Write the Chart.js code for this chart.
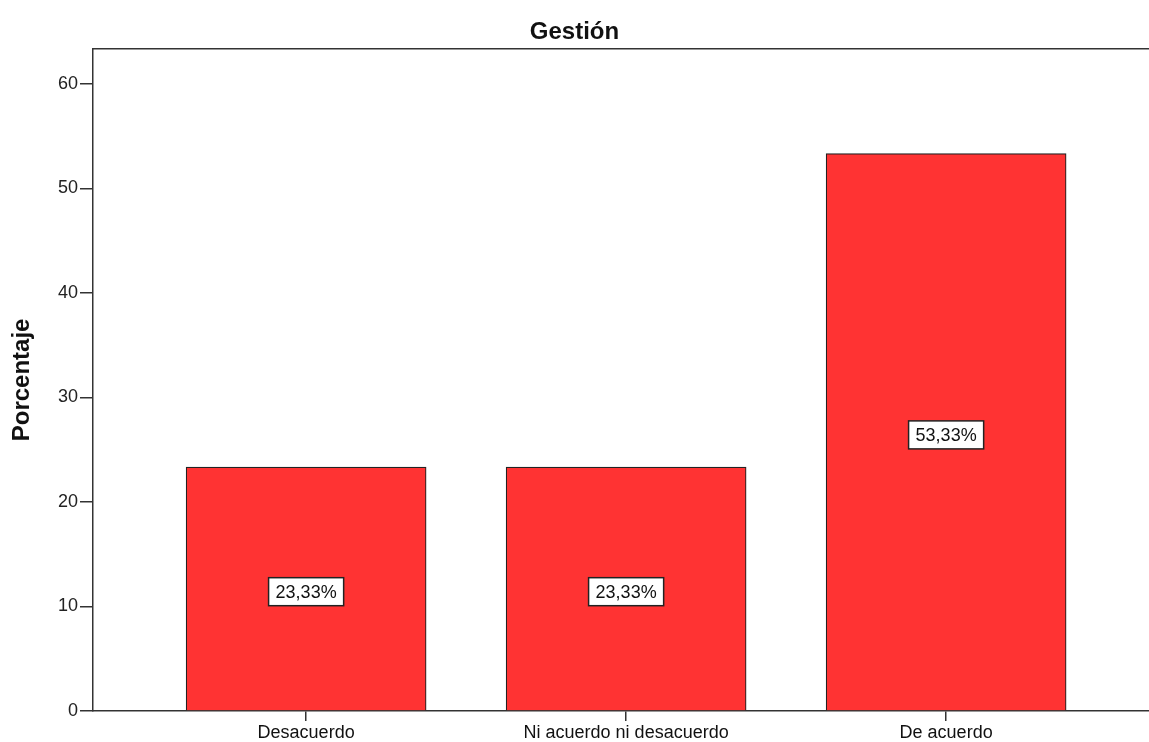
<!DOCTYPE html>
<html>
<head>
<meta charset="utf-8">
<script src="https://cdn.jsdelivr.net/npm/chart.js@4/dist/chart.umd.min.js"></script>
<style>
  html, body { margin: 0; padding: 0; background: #fff; }
  #wrap { width: 1149px; height: 742px; }
</style>
</head>
<body>
<div id="wrap"><canvas id="gestionChart"></canvas></div>
<script>
const categories = ['Desacuerdo', 'Ni acuerdo ni desacuerdo', 'De acuerdo'];
const percentages = [23.33, 23.33, 53.33];
const yTicks = [0, 10, 20, 30, 40, 50, 60];

const fontFamily = '"Liberation Sans", Arial, sans-serif';

// top border of the plot frame
const frameTop = {
    id: 'frameTop',
    afterDraw(chart) {
        const a = chart.chartArea;
        const ctx = chart.ctx;
        ctx.save();
        ctx.strokeStyle = '#333';
        ctx.lineWidth = 1.5;
        ctx.beginPath();
        ctx.moveTo(a.left, a.top);
        ctx.lineTo(a.right, a.top);
        ctx.stroke();
        ctx.restore();
    }
};

// boxed value labels in the middle of each bar
const boxLabels = {
    id: 'boxLabels',
    afterDatasetsDraw(chart) {
        const ctx = chart.ctx;
        const meta = chart.getDatasetMeta(0);
        ctx.save();
        ctx.font = '18px ' + fontFamily;
        ctx.textAlign = 'center';
        ctx.textBaseline = 'middle';
        meta.data.forEach((bar, i) => {
            const txt = percentages[i].toFixed(2).replace('.', ',') + '%';
            const x = bar.x;
            const y = (bar.y + bar.base) / 2 + 3;
            const w = ctx.measureText(txt).width + 14;
            const h = 28;
            ctx.fillStyle = '#fff';
            ctx.fillRect(x - w / 2, y - h / 2, w, h);
            ctx.strokeStyle = '#222';
            ctx.lineWidth = 1.5;
            ctx.strokeRect(x - w / 2, y - h / 2, w, h);
            ctx.fillStyle = '#111';
            ctx.fillText(txt, x, y + 1);
        });
        ctx.restore();
    }
};

const ctx = document.getElementById('gestionChart');
new Chart(ctx, {
    type: 'bar',
    data: {
        datasets: [{
            data: percentages.map((v, i) => ({ x: i, y: v })),
            backgroundColor: '#ff3333',
            borderColor: '#222',
            borderWidth: 1.2,
            barThickness: 240
        }]
    },
    options: {
        responsive: true,
        maintainAspectRatio: false,
        animation: false,
        layout: { padding: 0 },
        plugins: {
            legend: { display: false },
            tooltip: { enabled: false },
            title: {
                display: true,
                text: 'Gestión',
                color: '#111',
                font: { family: fontFamily, size: 24, weight: 'bold', lineHeight: 1.2 },
                padding: { top: 18, bottom: 2 }
            }
        },
        scales: {
            x: {
                type: 'linear',
                offset: false,
                min: -0.666,
                max: 2.634,
                afterBuildTicks(scale) {
                    scale.ticks = categories.map((c, i) => ({ value: i }));
                },
                afterFit(scale) { scale.height = 31; },
                ticks: {
                    color: '#111',
                    font: { family: fontFamily, size: 18 },
                    padding: 1,
                    maxRotation: 0,
                    autoSkip: false,
                    callback: (v) => categories[v]
                },
                grid: { offset: false, drawOnChartArea: false, drawTicks: true, tickLength: 10, color: '#333', lineWidth: 1.5 },
                border: { display: true, color: '#333', width: 1.5 }
            },
            y: {
                min: 0,
                max: 63.35,
                afterBuildTicks(scale) {
                    scale.ticks = yTicks.map(v => ({ value: v }));
                },
                afterFit(scale) { scale.width = 93; },
                title: {
                    display: true,
                    text: 'Porcentaje',
                    color: '#111',
                    font: { family: fontFamily, size: 24, weight: 'bold' },
                    padding: { top: 8, bottom: 0 }
                },
                ticks: {
                    color: '#222',
                    font: { family: fontFamily, size: 18 },
                    padding: 2
                },
                grid: { drawOnChartArea: false, drawTicks: true, tickLength: 13, color: '#333', lineWidth: 1.5 },
                border: { display: true, color: '#333', width: 1.5 }
            }
        }
    },
    plugins: [frameTop, boxLabels]
});
</script>
</body>
</html>
